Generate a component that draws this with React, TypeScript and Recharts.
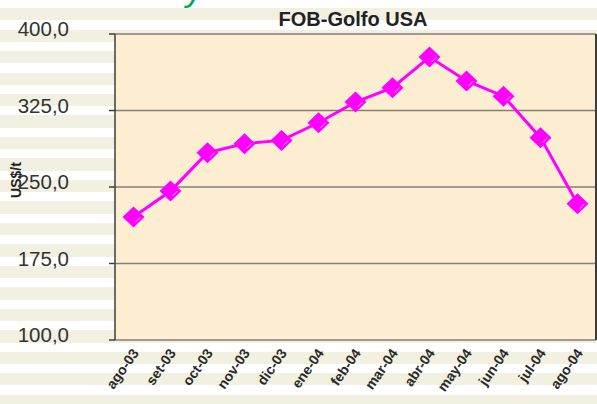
import { CartesianGrid, Line, LineChart, XAxis, YAxis } from "recharts";

const months = [
  "ago-03", "set-03", "oct-03", "nov-03", "dic-03", "ene-04", "feb-04",
  "mar-04", "abr-04", "may-04", "jun-04", "jul-04", "ago-04",
];
const prices = [220.5, 246, 283.6, 292.5, 295.7, 313, 333.3, 347.4, 377.4, 354, 339, 298.4, 233.6];
const yTicks = [100, 175, 250, 325, 400];

const data = months.map((m, i) => ({ i, m, v: prices[i] }));
const centerTicks = months.map((_, i) => i);
const edgeTicks = [...months.map((_, i) => i - 0.5), months.length - 0.5];
const xDomain = [-0.5, months.length - 0.5];

const FONT = "'Liberation Sans', Arial, sans-serif";
const AXIS = "#3c3c3c";

function Diamond(props: any) {
  const { cx, cy } = props;
  if (cx == null || cy == null) return null;
  const rx = 11;
  const ry = 10.5;
  return (
    <g>
      <polygon
        points={`${cx},${cy - ry} ${cx + rx},${cy} ${cx},${cy + ry} ${cx - rx},${cy}`}
        fill="#FF00FF"
      />
      <line x1={cx + 2} y1={cy + 5} x2={cx + 7} y2={cy} stroke="#ffd0ff" strokeWidth={0.8} />
    </g>
  );
}

function MonthTick(props: any) {
  const { x, y, payload } = props;
  const ax = x + 6;
  const ay = y + 5;
  return (
    <text
      x={ax}
      y={ay}
      transform={`rotate(-55, ${ax}, ${ay})`}
      textAnchor="end"
      fontFamily={FONT}
      fontWeight="bold"
      fontSize={14}
      fill="#2a2a2a"
    >
      {months[payload.value]}
    </text>
  );
}

function PriceTick(props: any) {
  const { x, y, payload } = props;
  return (
    <text x={x - 1} y={y + 2} textAnchor="end" fontFamily={FONT} fontSize={20.5} fill="#333">
      {payload.value.toFixed(1).replace(".", ",")}
    </text>
  );
}

const Empty = () => <g />;

export default function App() {
  return (
    <div
      style={{
        position: "absolute",
        left: 0,
        top: 0,
        width: 597,
        height: 404,
        background:
          "repeating-linear-gradient(to bottom, #ffffff 0px, #ffffff 8px, #f2f0e0 8px, #f2f0e0 20px, #ffffff 20px, #ffffff 21.5px)",
      }}
    >
      <LineChart
        width={597}
        height={404}
        data={data}
        margin={{ top: 34, right: 0, bottom: 0, left: 0 }}
      >
        <CartesianGrid
          vertical={false}
          fill="#FDEDD1"
          stroke="#857f76"
          strokeWidth={1.5}
          yAxisId="left"
        />
        <XAxis
          xAxisId="edge"
          type="number"
          dataKey="i"
          domain={xDomain}
          ticks={edgeTicks}
          height={0}
          tick={<Empty />}
          tickSize={6}
          axisLine={{ stroke: AXIS, strokeWidth: 1.5 }}
          tickLine={{ stroke: AXIS, strokeWidth: 1.5 }}
        />
        <XAxis
          type="number"
          dataKey="i"
          domain={xDomain}
          ticks={centerTicks}
          interval={0}
          height={64}
          axisLine={false}
          tickLine={false}
          tick={<MonthTick />}
        />
        <XAxis
          xAxisId="top"
          orientation="top"
          type="number"
          dataKey="i"
          domain={xDomain}
          height={0}
          tick={false}
          tickLine={false}
          axisLine={{ stroke: AXIS, strokeWidth: 2 }}
        />
        <YAxis
          yAxisId="left"
          width={115}
          domain={[100, 400]}
          ticks={yTicks}
          interval={0}
          tickSize={6}
          tickMargin={39}
          axisLine={{ stroke: AXIS, strokeWidth: 1.5 }}
          tickLine={{ stroke: AXIS, strokeWidth: 1.5 }}
          tick={<PriceTick />}
        />
        <YAxis
          yAxisId="right"
          orientation="right"
          width={1}
          domain={[100, 400]}
          tick={false}
          tickLine={false}
          axisLine={{ stroke: AXIS, strokeWidth: 2 }}
        />
        <Line
          yAxisId="left"
          dataKey="v"
          stroke="#FF00FF"
          strokeWidth={3}
          dot={<Diamond />}
          activeDot={false}
          isAnimationActive={false}
        />
      </LineChart>
      <svg
        width={597}
        height={404}
        style={{ position: "absolute", left: 0, top: 0, pointerEvents: "none" }}
      >
        <text x={186} y={1} fontFamily={FONT} fontStyle="italic" fontSize={34} fill="#00A550">
          y
        </text>
        <text
          x={353}
          y={26}
          textAnchor="middle"
          fontFamily={FONT}
          fontWeight="bold"
          fontSize={20}
          fill="#222"
        >
          FOB-Golfo USA
        </text>
        <text
          x={21}
          y={180}
          transform="rotate(-90, 21, 180)"
          textAnchor="middle"
          fontFamily={FONT}
          fontWeight="bold"
          fontSize={14}
          fill="#222"
        >
          US$/t
        </text>
      </svg>
    </div>
  );
}
